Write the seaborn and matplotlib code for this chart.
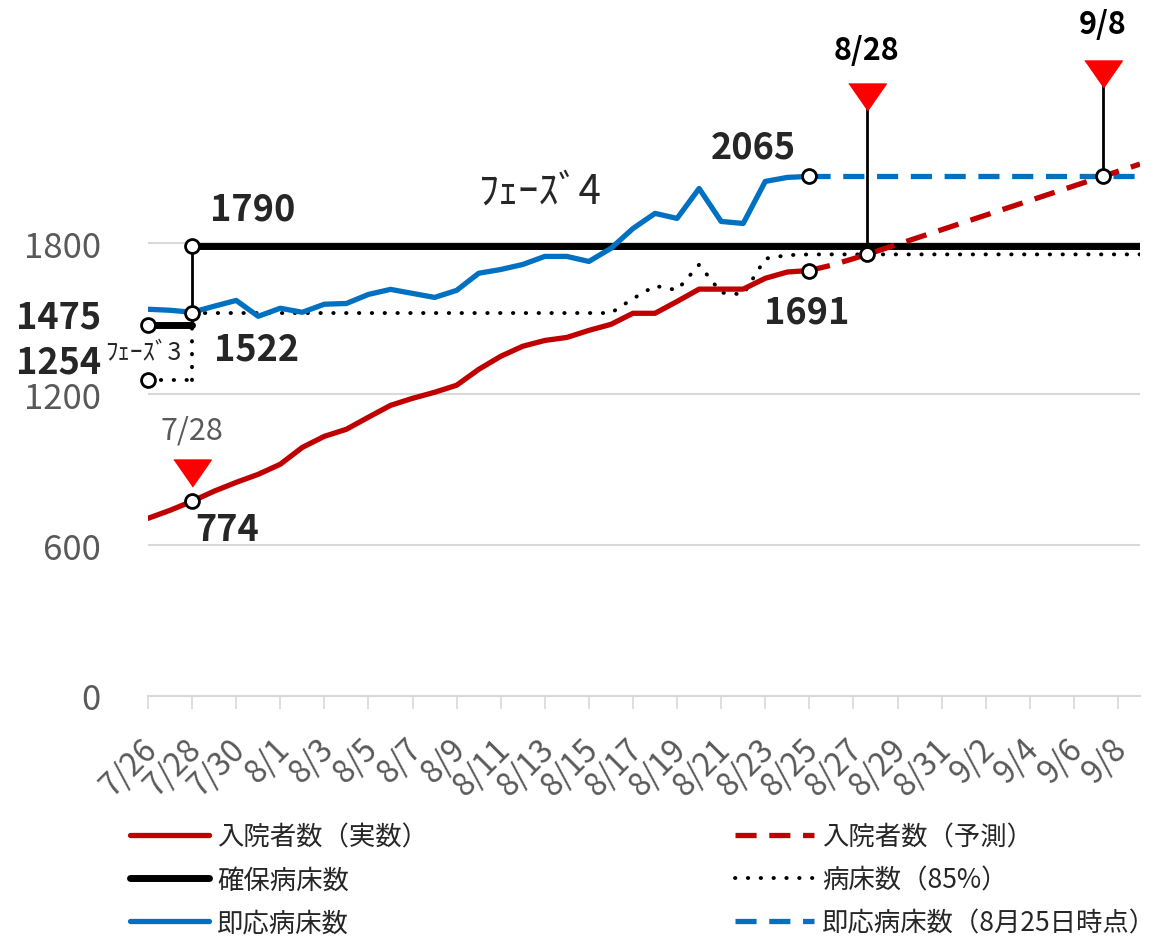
import numpy as np
import pandas as pd
import matplotlib.pyplot as plt
import matplotlib.transforms as mtransforms
import seaborn as sns

sns.set_style('white')
plt.rcParams['font.family'] = ['Noto Sans CJK JP', 'DejaVu Sans']

# categories: one per day, 7/26 .. 9/9
dates = pd.date_range('2021-07-26', '2021-09-09')
date_labels = [f'{d.month}/{d.day}' for d in dates]
day = {lab: i for i, lab in enumerate(date_labels)}

# 入院者数（実数） 7/26 - 8/25
inpatients_actual = [706, 738, 774, 814, 849, 881,
                     921, 988, 1032, 1060, 1108, 1155, 1183, 1207, 1235, 1298,
                     1350, 1390, 1413, 1425, 1453, 1477, 1521, 1521, 1568, 1617,
                     1617, 1617, 1660, 1685, 1691]
# 入院者数（予測） 8/25 - 9/9
inpatients_forecast = [1691, 1712, 1738, 1766, 1795, 1824, 1853, 1882,
                       1911, 1940, 1969, 1998, 2027, 2056, 2085, 2114]
# 即応病床数 7/26 - 8/25
ready_beds = [1537, 1533, 1525, 1549, 1572, 1509,
              1541, 1525, 1557, 1560, 1596, 1616, 1600, 1584, 1612, 1680,
              1695, 1715, 1747, 1747, 1727, 1779, 1858, 1918, 1898, 2017,
              1886, 1878, 2045, 2061, 2065]
# 即応病床数（8月25日時点） 8/25 - 9/9
ready_beds_0825 = [2065] * 16
# 確保病床数 / 病床数(85%)
secured_phase3 = 1475
secured_phase4 = 1790
beds85_phase3 = 1254
phase4_start = '7/28'
# 病床数（85%） 7/28 - 9/9
beds85 = [1522] * 20 + [1579, 1630, 1613, 1714, 1603, 1596, 1738, 1752] + [1755] * 16

RED, BLUE, GRAY, GRID = '#c00000', '#0070c0', '#595959', '#d9d9d9'
DOT = (0, (0.1, 3.2))
DASH = (0, (4, 2.4))

fig = plt.figure(figsize=(11.76, 9.37), dpi=100)
ax = fig.add_axes([148 / 1176, 1 - 697 / 937, (1140 - 148) / 1176, 697 / 937])

n = len(date_labels)
p4 = day[phase4_start]
d0825 = day['8/25']
x_actual = np.arange(len(inpatients_actual))
x_fc = np.arange(d0825, d0825 + len(inpatients_forecast))
x_p4 = np.arange(p4, n)

# phase 3 -> phase 4 steps
sns.lineplot(x=[0, p4], y=[secured_phase3] * 2, color='black', lw=5, ax=ax, zorder=3)
sns.lineplot(x=[0, p4], y=[beds85_phase3] * 2, color='black', lw=2.8, ax=ax,
             linestyle=DOT, dash_capstyle='round', zorder=3)
ax.vlines(p4, secured_phase3, secured_phase4, color='black', lw=2, zorder=3)
ax.vlines(p4, beds85_phase3, beds85[0], color='black', lw=2.8, linestyles=[DOT],
          capstyle='round', zorder=3)

sns.lineplot(x=x_p4, y=[secured_phase4] * len(x_p4), color='black', lw=5, ax=ax, zorder=3)
h_secured = ax.lines[-1]
sns.lineplot(x=x_p4, y=beds85, color='black', lw=2.8, ax=ax,
             linestyle=DOT, dash_capstyle='round', zorder=3)
h_85 = ax.lines[-1]
sns.lineplot(x=x_actual, y=ready_beds, color=BLUE, lw=3.8, ax=ax, zorder=4)
h_ready = ax.lines[-1]
sns.lineplot(x=x_fc, y=ready_beds_0825, color=BLUE, lw=3.8, ax=ax,
             linestyle=DASH, zorder=4)
h_ready0825 = ax.lines[-1]
sns.lineplot(x=x_actual, y=inpatients_actual, color=RED, lw=3.8, ax=ax, zorder=4)
h_actual = ax.lines[-1]
sns.lineplot(x=x_fc, y=inpatients_forecast, color=RED, lw=3.8, ax=ax,
             linestyle=DASH, zorder=4)
h_fc = ax.lines[-1]

# crossing points of the forecast
x_cross85 = np.interp(beds85[-1], inpatients_forecast, x_fc)
x_cross_ready = np.interp(ready_beds_0825[-1], inpatients_forecast, x_fc)

circle_kw = dict(marker='o', ms=10, mfc='white', mec='black', mew=2,
                 ls='none', zorder=7, clip_on=False)
ax.plot([0, 0, p4, p4, p4, d0825, d0825, x_cross85, x_cross_ready],
        [secured_phase3, beds85_phase3, secured_phase4, beds85[0],
         inpatients_actual[p4], ready_beds[-1], inpatients_actual[-1],
         beds85[-1], ready_beds_0825[-1]], **circle_kw)

# event triangles
tri = [(-1, 0.72), (1, 0.72), (0, -0.72)]
tri_levels = [885, 2380, 2470]
tri_x = [p4, x_cross85, x_cross_ready]
ax.vlines(tri_x[1:], [beds85[-1], ready_beds_0825[-1]], tri_levels[1:],
          color='black', lw=2, zorder=5)
ax.plot(tri_x, tri_levels, marker=tri, ms=27, color='#ff0000', ls='none',
        zorder=6, clip_on=False)
for x, y, txt, col, w, dy in zip(tri_x, tri_levels, ['7/28', '8/28', '9/8'],
                                  [GRAY, 'black', 'black'],
                                  ['normal', 'bold', 'bold'], [31, 34, 36]):
    ax.annotate(txt, (x, y), xytext=(0, dy), textcoords='offset points',
                ha='center', va='center', fontsize=22, color=col, fontweight=w,
                annotation_clip=False)

# value labels
labels = [
    (p4, secured_phase4, (13, 26), 'left'),
    (p4, beds85[0], (16, -26), 'left'),
    (0, secured_phase3, (-34, 6), 'right'),
    (0, beds85_phase3, (-34, 13), 'right'),
    (d0825, ready_beds[-1], (-40, 21), 'center'),
    (d0825, inpatients_actual[-1], (-2, -30), 'center'),
    (p4, inpatients_actual[p4], (2, -20), 'left'),
]
for x, y, off, ha in labels:
    ax.annotate(f'{y}', (x, y), xytext=off, textcoords='offset points',
                ha=ha, va='center', fontsize=26, fontweight='bold',
                annotation_clip=False)
ax.annotate('ﾌｪｰｽﾞ3', (0, beds85_phase3), xytext=(-31, 20), textcoords='offset points',
            ha='left', va='center', fontsize=18, annotation_clip=False)
ax.text(17.8, 2005, 'ﾌｪｰｽﾞ4', ha='center', va='center', fontsize=29)

# axes styling
ax.set_xlim(0, n - 1)
ax.set_ylim(0, 2770)
ax.set_yticks([0, 600, 1200, 1800])
ax.yaxis.grid(True, color=GRID, lw=1.5, zorder=0)
ax.set_axisbelow(True)
ax.tick_params(axis='y', length=0, pad=34, labelsize=25, labelcolor=GRAY)
ax.set_xticks(range(0, n - 1, 2))
ax.set_xticklabels(date_labels[0:n - 1:2], rotation=45, ha='right', va='center',
                   rotation_mode='anchor')
ax.tick_params(axis='x', length=9, width=1.2, color=GRID, pad=25,
               labelsize=23, labelcolor=GRAY, bottom=True)
shift = mtransforms.ScaledTranslation(4 / 100, 0, fig.dpi_scale_trans)
for lab in ax.get_xticklabels():
    lab.set_transform(lab.get_transform() + shift)
for s in ['top', 'right', 'left']:
    ax.spines[s].set_visible(False)
ax.spines['bottom'].set_color(GRID)
ax.spines['bottom'].set_linewidth(1.5)
ax.set_xlabel('')
ax.set_ylabel('')

leg_kw = dict(loc='upper left', frameon=False, fontsize=19, handlelength=3.0,
              handletextpad=0.3, labelspacing=0.62, borderpad=0, borderaxespad=0)
fig.legend([h_actual, h_secured, h_ready],
           ['入院者数（実数）', '確保病床数', '即応病床数'],
           bbox_to_anchor=(130 / 1176, 1 - 824 / 937), **leg_kw)
fig.legend([h_fc, h_85, h_ready0825],
           ['入院者数（予測）', '病床数（85%）', '即応病床数（8月25日時点）'],
           bbox_to_anchor=(735 / 1176, 1 - 824 / 937), **leg_kw)

fig.savefig('out.png', dpi=100)
